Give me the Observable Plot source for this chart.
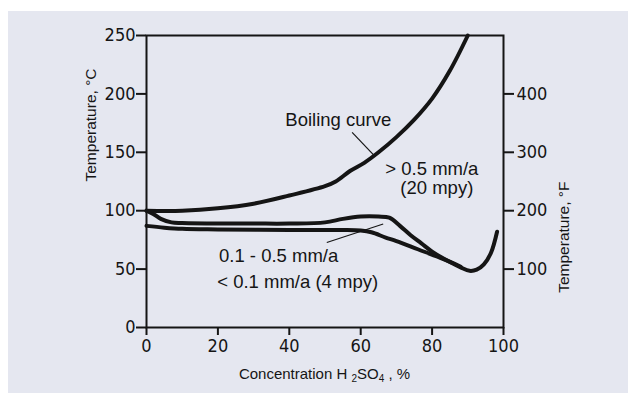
<!DOCTYPE html>
<html>
<head>
<meta charset="utf-8">
<script src="https://cdn.jsdelivr.net/npm/d3@7"></script>
<script src="https://cdn.jsdelivr.net/npm/@observablehq/plot@0.6"></script>
<style>
  html, body { margin: 0; padding: 0; background: #ffffff; }
  #wrap { position: relative; width: 628px; height: 400px; overflow: hidden; }
  #bg { position: absolute; left: 8px; top: 11px; width: 620px; height: 382px; background: #e5e7f0; }
  #chart { position: absolute; left: 0; top: 0; }
  svg { background: transparent !important; }
</style>
</head>
<body>
<div id="wrap"><div id="bg"></div><div id="chart"></div></div>
<script>
// Boiling curve (concentration %, temperature °C)
const boilConc = [0, 10, 20, 30, 40, 50, 53, 57, 61, 65, 70, 75, 80, 85, 90];
const boilTemp = [100, 100, 102, 106, 113, 121, 125, 134, 141, 150, 163, 178, 196, 220, 250];

// 0.5 mm/a iso-corrosion curve
const upperConc = [0, 2, 4, 7, 10, 20, 30, 40, 50, 55, 60, 65, 68, 71, 74, 77, 80, 85, 88, 90.5, 92.5, 94.5, 96.5, 98.2];
const upperTemp = [100, 97, 93, 90, 89.5, 89, 89, 89, 90, 93, 95, 95, 94, 87, 79, 72, 65, 56, 51.5, 48.5, 49.5, 54, 64, 82];

// 0.1 mm/a iso-corrosion curve
const lowerConc = [0, 5, 10, 20, 40, 55, 60, 63, 67, 70, 76, 82, 86, 88];
const lowerTemp = [87, 85.5, 84.5, 84, 83.5, 83.5, 83, 81.5, 77, 74, 67, 60, 55, 52];

// Tick labels
const xTicks = [0, 20, 40, 60, 80, 100];
const cTicks = [0, 50, 100, 150, 200, 250];
const fTickLabels = [100, 200, 300, 400];
const fTickAtC = [50, 100, 150, 200]; // where the °F ticks sit on the °C scale in the picture

// Annotations
const noteText = ["Boiling curve", "> 0.5 mm/a", "(20 mpy)", "0.1 - 0.5 mm/a", "< 0.1 mm/a (4 mpy)"];
const noteConc = [38.9, 66.9, 71.1, 20.3, 19.8];
const noteTemp = [172.1, 130.7, 113.9, 55.9, 34.0];

// Leader lines
const leadX1 = [57.6, 50.5];
const leadY1 = [167, 72.8];
const leadX2 = [63.6, 66.3];
const leadY2 = [147.8, 88.6];

const toRows = (xs, ys) => xs.map((x, i) => ({c: x, t: ys[i]}));
const boil = toRows(boilConc, boilTemp);
const upper = toRows(upperConc, upperTemp);
const lower = toRows(lowerConc, lowerTemp);
const notes = noteText.map((s, i) => ({s, c: noteConc[i], t: noteTemp[i]}));
const leaders = leadX1.map((x, i) => ({x1: x, y1: leadY1[i], x2: leadX2[i], y2: leadY2[i]}));

const ink = "#151515";
const font = "'Liberation Sans', Arial, sans-serif";
const tickFont = "'Liberation Sans Narrow', 'DejaVu Sans Condensed', sans-serif";

const chart = Plot.plot({
  width: 628,
  height: 400,
  marginLeft: 146,
  marginRight: 125,
  marginTop: 35,
  marginBottom: 73,
  style: {background: "transparent", fontFamily: font, color: ink},
  x: {domain: [0, 100]},
  y: {domain: [0, 250]},
  marks: [
    Plot.frame({stroke: ink, strokeWidth: 2}),
    Plot.axisX({ticks: xTicks, tickSize: 8, tickPadding: 4, fontSize: 18, fontFamily: tickFont, strokeWidth: 2, label: null, tickFormat: d => d}),
    Plot.axisY({ticks: cTicks, tickSize: 10, tickPadding: 1, fontSize: 18, fontFamily: tickFont, strokeWidth: 2, label: null, tickFormat: d => d}),
    Plot.axisY({anchor: "right", ticks: fTickAtC, tickSize: 10, tickPadding: 3, fontSize: 18, fontFamily: tickFont, strokeWidth: 2, label: null,
      tickFormat: d => fTickLabels[fTickAtC.indexOf(d)]}),
    Plot.text(["Temperature, °C"], {frameAnchor: "left", dx: -55, rotate: -90, fontSize: 15.5, fill: ink}),
    Plot.text(["Temperature, °F"], {frameAnchor: "right", dx: 61, rotate: -90, fontSize: 15.5, fill: ink}),
    Plot.line(lower, {x: "c", y: "t", curve: "catmull-rom", stroke: ink, strokeWidth: 4}),
    Plot.line(upper, {x: "c", y: "t", curve: "catmull-rom", stroke: ink, strokeWidth: 4}),
    Plot.line(boil, {x: "c", y: "t", curve: "catmull-rom", stroke: ink, strokeWidth: 4}),
    Plot.link(leaders, {x1: "x1", y1: "y1", x2: "x2", y2: "y2", stroke: ink, strokeWidth: 1.2}),
    Plot.text(notes, {x: "c", y: "t", text: "s", textAnchor: "start", lineAnchor: "bottom", fontSize: 18.5, fill: ink})
  ]
});

document.getElementById("chart").appendChild(chart);

// X axis title with subscripts
const xs = chart.scale("x");
const svg = d3.select(chart);
const t = svg.append("text")
  .attr("x", xs.apply(50))
  .attr("y", 379)
  .attr("text-anchor", "middle")
  .attr("font-size", 15)
  .attr("font-family", font)
  .attr("fill", ink);
t.append("tspan").text("Concentration H ");
t.append("tspan").attr("font-size", 10).attr("dy", 3).text("2");
t.append("tspan").attr("dy", -3).text("SO");
t.append("tspan").attr("font-size", 10).attr("dy", 3).text("4");
t.append("tspan").attr("dy", -3).text(" , %");
</script>
</body>
</html>
